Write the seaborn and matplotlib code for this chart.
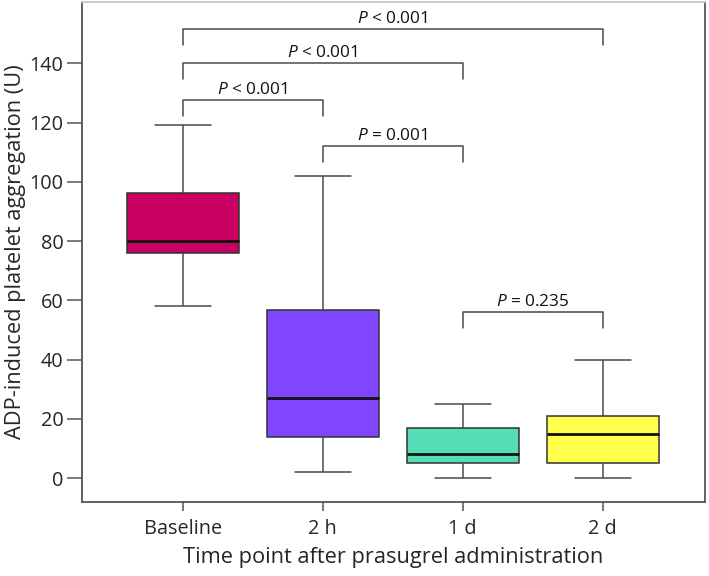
import numpy as np
import pandas as pd
import matplotlib
matplotlib.use('Agg')
import matplotlib.pyplot as plt
import seaborn as sns

# five-number summaries (min, Q1, median, Q3, max)
groups = ['Baseline', '2 h', '1 d', '2 d']
baseline = [58, 75.8, 80, 96.2, 119.2]
h2 = [2, 13.7, 27, 56.6, 102]
d1 = [0, 5, 8, 17, 25]
d2 = [0, 5, 15, 21, 40]
colors = ['#C70062', '#7F45FF', '#55DDB6', '#FFFF4C']

# pairwise comparisons: (group a, group b), bracket height, label
pairs = [('Baseline', '2 d'), ('Baseline', '1 d'), ('Baseline', '2 h'),
         ('2 h', '1 d'), ('1 d', '2 d')]
bracket_y = [151.5, 140, 127.5, 112, 56]
p_labels = ['< 0.001', '< 0.001', '< 0.001', '= 0.001', '= 0.235']

df = pd.DataFrame({
    'group': np.repeat(groups, 5),
    'value': baseline + h2 + d1 + d2,
})

sns.set_style('white')
plt.rcParams['font.family'] = ['Open Sans', 'DejaVu Sans']
plt.rcParams['mathtext.fontset'] = 'custom'
plt.rcParams['mathtext.it'] = 'Open Sans:italic'
plt.rcParams['mathtext.rm'] = 'Open Sans'

fig = plt.figure(figsize=(7.09, 5.76), dpi=100)
ax = fig.add_axes([82 / 709, 1 - 502 / 576, 623 / 709, 500 / 576])

sns.boxplot(data=df, x='group', y='value', hue='group', order=groups,
            palette=colors, whis=(0, 100), width=0.8, linewidth=1.1,
            linecolor='#4a4a4a', saturation=1, legend=False, ax=ax,
            medianprops={'color': '#111111', 'linewidth': 2},
            boxprops={'edgecolor': '#333333'})

ax.set_xlim(-0.72, 3.73)
ax.set_ylim(-8.1, 160.7)
ax.set_yticks(range(0, 141, 20))

# significance brackets
for (a, b), y, lab in zip(pairs, bracket_y, p_labels):
    xa, xb = groups.index(a), groups.index(b)
    ax.plot([xa, xa, xb, xb], [y - 5.3, y, y, y - 5.3], color='#4a4a4a', lw=1.1)
    ax.text((xa + xb) / 2, y + 2.0, r'$\it{P}$ ' + lab, ha='center', va='baseline',
            fontsize=12.4, color='#111111')

for side in ['left', 'bottom', 'right']:
    ax.spines[side].set_color('#555555')
    ax.spines[side].set_linewidth(1.3)
ax.spines['top'].set_color('#c8c8c8')
ax.spines['top'].set_linewidth(1.3)

ax.tick_params(axis='y', length=10.5, width=1.1, color='#555555', pad=3, labelsize=14.3, left=True)
ax.tick_params(axis='x', length=6.5, width=1.1, color='#555555', pad=5.5, labelsize=14.3, bottom=True)
ax.set_xlabel('Time point after prasugrel administration', fontsize=15.7, labelpad=6)
ax.set_ylabel('ADP-induced platelet aggregation (U)', fontsize=15.7, labelpad=2)

fig.savefig('out.png', dpi=100)
